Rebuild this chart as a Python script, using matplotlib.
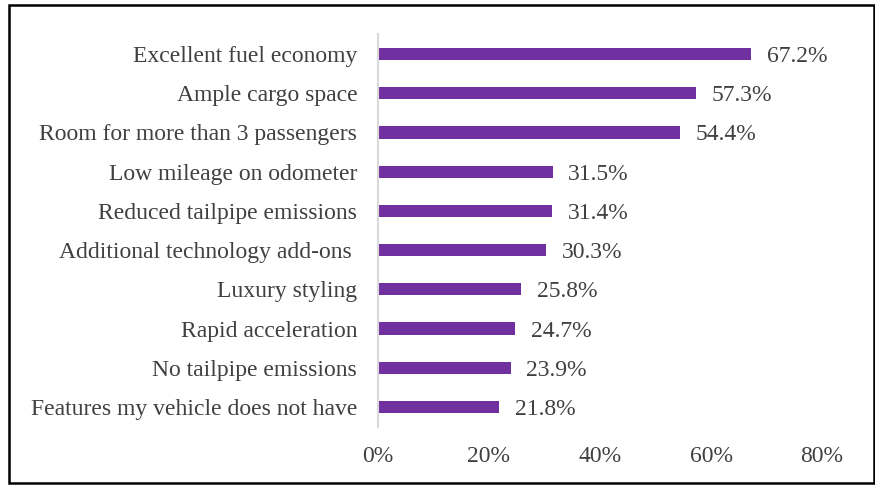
import matplotlib.pyplot as plt
from matplotlib.patches import Rectangle

features = [
    "Excellent fuel economy",
    "Ample cargo space",
    "Room for more than 3 passengers",
    "Low mileage on odometer",
    "Reduced tailpipe emissions",
    "Additional technology add-ons ",
    "Luxury styling",
    "Rapid acceleration",
    "No tailpipe emissions",
    "Features my vehicle does not have",
]
shares = [67.2, 57.3, 54.4, 31.5, 31.4, 30.3, 25.8, 24.7, 23.9, 21.8]
x_ticks = [0, 20, 40, 60, 80]

plt.rcParams["font.family"] = ["Liberation Serif", "DejaVu Serif"]
text_color = "#404040"
bar_color = "#7030A0"

fig = plt.figure(figsize=(8.75, 4.86), dpi=100)
ax = fig.add_axes([378 / 875, 1 - 426.6 / 486, 444 / 875, 392.2 / 486])

pos = list(range(len(features)))
ax.barh(pos, shares, height=0.31, color=bar_color)
for p, v in zip(pos, shares):
    ax.text(v + 2.8, p, f"{v:.1f}%", va="center_baseline", ha="left",
            fontsize=17, color=text_color)

ax.set_xlim(0, 80)
ax.set_ylim(len(features) - 0.5, -0.5)
ax.set_yticks(pos)
ax.set_yticklabels(features, fontsize=17, color=text_color)
ax.set_xticks(x_ticks)
ax.set_xticklabels([f"{t}%" for t in x_ticks], fontsize=17, color=text_color)
ax.tick_params(axis="y", length=0, pad=15)
ax.tick_params(axis="x", length=0, pad=14)

for side in ["top", "right", "bottom"]:
    ax.spines[side].set_visible(False)
ax.spines["left"].set_color("#d9d9d9")
ax.spines["left"].set_linewidth(1.5)

# black frame round the whole chart
fig.patches.append(Rectangle((9 / 875, 3 / 486), 865 / 875, 478 / 486,
                             transform=fig.transFigure, fill=False,
                             edgecolor="black", linewidth=1.8))

fig.savefig("out.png", dpi=100)
